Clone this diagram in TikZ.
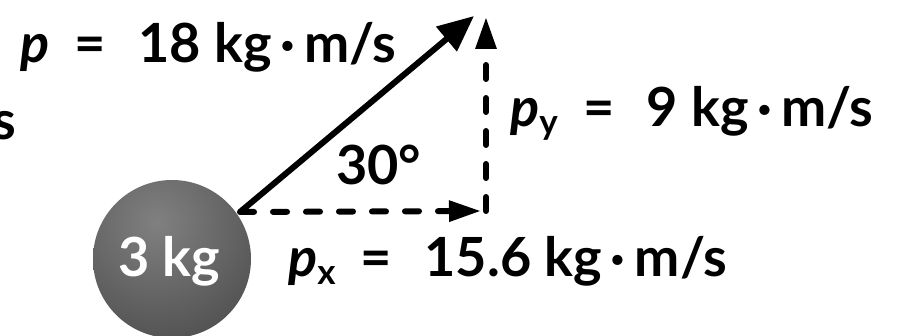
\documentclass[tikz,border=0pt]{standalone}
\usepackage{fontspec}
\setmainfont{Lato}
\usetikzlibrary{arrows.meta}
\definecolor{ballin}{RGB}{128,128,128}
\definecolor{ballout}{RGB}{82,82,82}
\newcommand\mysub[1]{\raisebox{-8pt}{\fontsize{35}{35}\selectfont #1}}
\newcommand\mydot{\,\raisebox{0pt}{·}\,}
\newcommand\myeq{\hspace{0.47em}=\hspace{0.6em}}
\begin{document}
\begin{tikzpicture}[x=1pt,y=-1pt,
  lbl/.style={inner sep=0pt, anchor=base west, font=\fontsize{54}{54}\selectfont\bfseries},
  vec/.style={line width=6pt, -{Triangle[length=36pt,width=31pt]}},
  comp/.style={line width=6pt, dash pattern=on 14pt off 19pt, line cap=round, -{Triangle[length=32pt,width=20pt]}}]
\useasboundingbox (0,0) rectangle (905,336);
% ball
\node[circle, minimum size=158pt, inner sep=0pt] (ball) at (172,259) {};
\begin{scope}
  \clip (ball.center) circle[radius=79pt];
  \shade[inner color=ballin, outer color=ballout] (157,222) circle[radius=122pt];
\end{scope}
\node[lbl, text=white] (mass) at (118,277) {3 kg};
% vectors
\coordinate (O) at (240,212);
\coordinate (P) at (474,16);
\coordinate (X) at (481,211);
\coordinate (Y0) at (486,211);
\coordinate (Y) at (486,17);
\draw[comp] (O) -- (X);
\draw[comp] (Y0) -- (Y);
\draw[vec] (O) -- (P);
% labels
\node[lbl] (plbl) at (20,63) {\textit{p}\myeq 18 kg\mydot m/s};
\node[lbl, anchor=base east] (frag) at (16,140) {s};
\node[lbl] (pylbl) at (510,127) {\textit{p}\mysub{y}\myeq 9 kg\mydot m/s};
\node[lbl] (ang) at (336,185) {30°};
\node[lbl] (pxlbl) at (288,277) {\textit{p}\mysub{x}\myeq 15.6 kg\mydot m/s};
\end{tikzpicture}
\end{document}
